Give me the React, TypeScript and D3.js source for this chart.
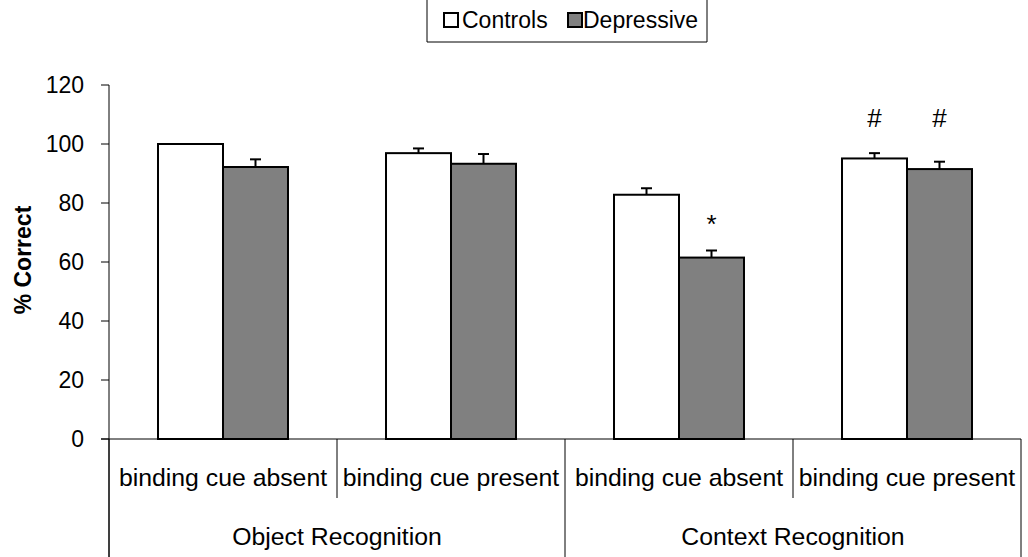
import React from "react";
import * as d3 from "d3";

const groups = ["Object Recognition", "Context Recognition"];
const categories = ["binding cue absent", "binding cue present", "binding cue absent", "binding cue present"];
const categoryGroup = [0, 0, 1, 1];
const series = ["Controls", "Depressive"];
const controls = [100, 96.9, 82.8, 95.1];
const controlsErr = [0, 1.6, 2.2, 1.8];
const depressive = [92.2, 93.3, 61.5, 91.5];
const depressiveErr = [2.6, 3.3, 2.4, 2.5];
const marks: { cat: number; s: number; text: string }[] = [
  { cat: 2, s: 1, text: "*" },
  { cat: 3, s: 0, text: "#" },
  { cat: 3, s: 1, text: "#" },
];
const yTicks = [0, 20, 40, 60, 80, 100, 120];

const W = 1028, H = 557;
const left = 109, right = 1021, top = 85, bottom = 439;
const font = "Liberation Sans, Arial, sans-serif";

export default function App() {
  const y = d3.scaleLinear().domain([0, 120]).range([bottom, top]);
  const x = d3.scaleBand<number>().domain(d3.range(categories.length)).range([left, right]).padding(0);
  const inner = d3.scaleBand<number>().domain([0, 1]).range([0, x.bandwidth()]).paddingInner(0).paddingOuter(0.754);
  const fills = ["#ffffff", "#808080"];
  const vals = [controls, depressive];
  const errs = [controlsErr, depressiveErr];

  return (
    <svg width={W} height={H} style={{ position: "absolute", left: 0, top: 0 }} fontFamily={font}>
      {/* legend */}
      <path d="M427,0 V42 H707 V0" fill="none" stroke="#000" strokeWidth={1} />
      <g fontSize={23}>
        <rect x={444} y={13} width={14} height={14} fill="#fff" stroke="#000" strokeWidth={2} />
        <text x={462} y={28}>{series[0]}</text>
        <rect x={568} y={13} width={14} height={14} fill="#808080" stroke="#000" strokeWidth={2} />
        <text x={583} y={28}>{series[1]}</text>
      </g>

      {/* y axis */}
      <line x1={left} x2={left} y1={top} y2={H} stroke="#000" strokeWidth={1} />
      {yTicks.map((t) => (
        <g key={t}>
          <line x1={left - 8} x2={left} y1={y(t)} y2={y(t)} stroke="#000" />
          <text x={84} y={y(t) + 8} textAnchor="end" fontSize={23}>{t}</text>
        </g>
      ))}
      <text transform={`translate(31,260) rotate(-90)`} textAnchor="middle" fontSize={23} fontWeight="bold">% Correct</text>

      {/* x axis */}
      <line x1={left - 8} x2={right} y1={bottom} y2={bottom} stroke="#000" />
      {d3.range(categories.length + 1).map((i) => {
        const xx = i < categories.length ? x(i)! : right;
        const isGroupEdge = i === 0 || i === categories.length || categoryGroup[i] !== categoryGroup[i - 1];
        return <line key={i} x1={xx} x2={xx} y1={bottom} y2={isGroupEdge ? H : 498} stroke="#000" />;
      })}
      {categories.map((c, i) => (
        <text key={i} x={x(i)! + x.bandwidth() / 2} y={486} textAnchor="middle" fontSize={24.8}>{c}</text>
      ))}
      {groups.map((g, gi) => {
        const idx = categories.map((_, i) => i).filter((i) => categoryGroup[i] === gi);
        const x0 = x(idx[0])!;
        const x1 = x(idx[idx.length - 1])! + x.bandwidth();
        return <text key={g} x={(x0 + x1) / 2} y={545} textAnchor="middle" fontSize={24.8}>{g}</text>;
      })}

      {/* bars */}
      {categories.map((_, i) =>
        series.map((s, si) => {
          const bx = x(i)! + inner(si)!;
          const bw = inner.bandwidth();
          const v = vals[si][i];
          const e = errs[si][i];
          const cx = bx + bw / 2;
          return (
            <g key={`${i}-${si}`}>
              {e > 0 && (
                <g stroke="#000" strokeWidth={2}>
                  <line x1={cx} x2={cx} y1={y(v)} y2={y(v + e)} />
                  <line x1={cx - 5.5} x2={cx + 5.5} y1={y(v + e)} y2={y(v + e)} />
                </g>
              )}
              <rect x={bx} y={y(v)} width={bw} height={bottom - y(v)} fill={fills[si]} stroke="#000" strokeWidth={2} />
            </g>
          );
        })
      )}

      {/* significance marks */}
      {marks.map((m, k) => {
        const cx = x(m.cat)! + inner(m.s)! + inner.bandwidth() / 2;
        const v = vals[m.s][m.cat] + errs[m.s][m.cat];
        const yy = m.text === "*" ? y(v) - 17 : 127;
        return (
          <text key={k} x={cx} y={yy} textAnchor="middle" fontSize={26}>{m.text}</text>
        );
      })}
    </svg>
  );
}
